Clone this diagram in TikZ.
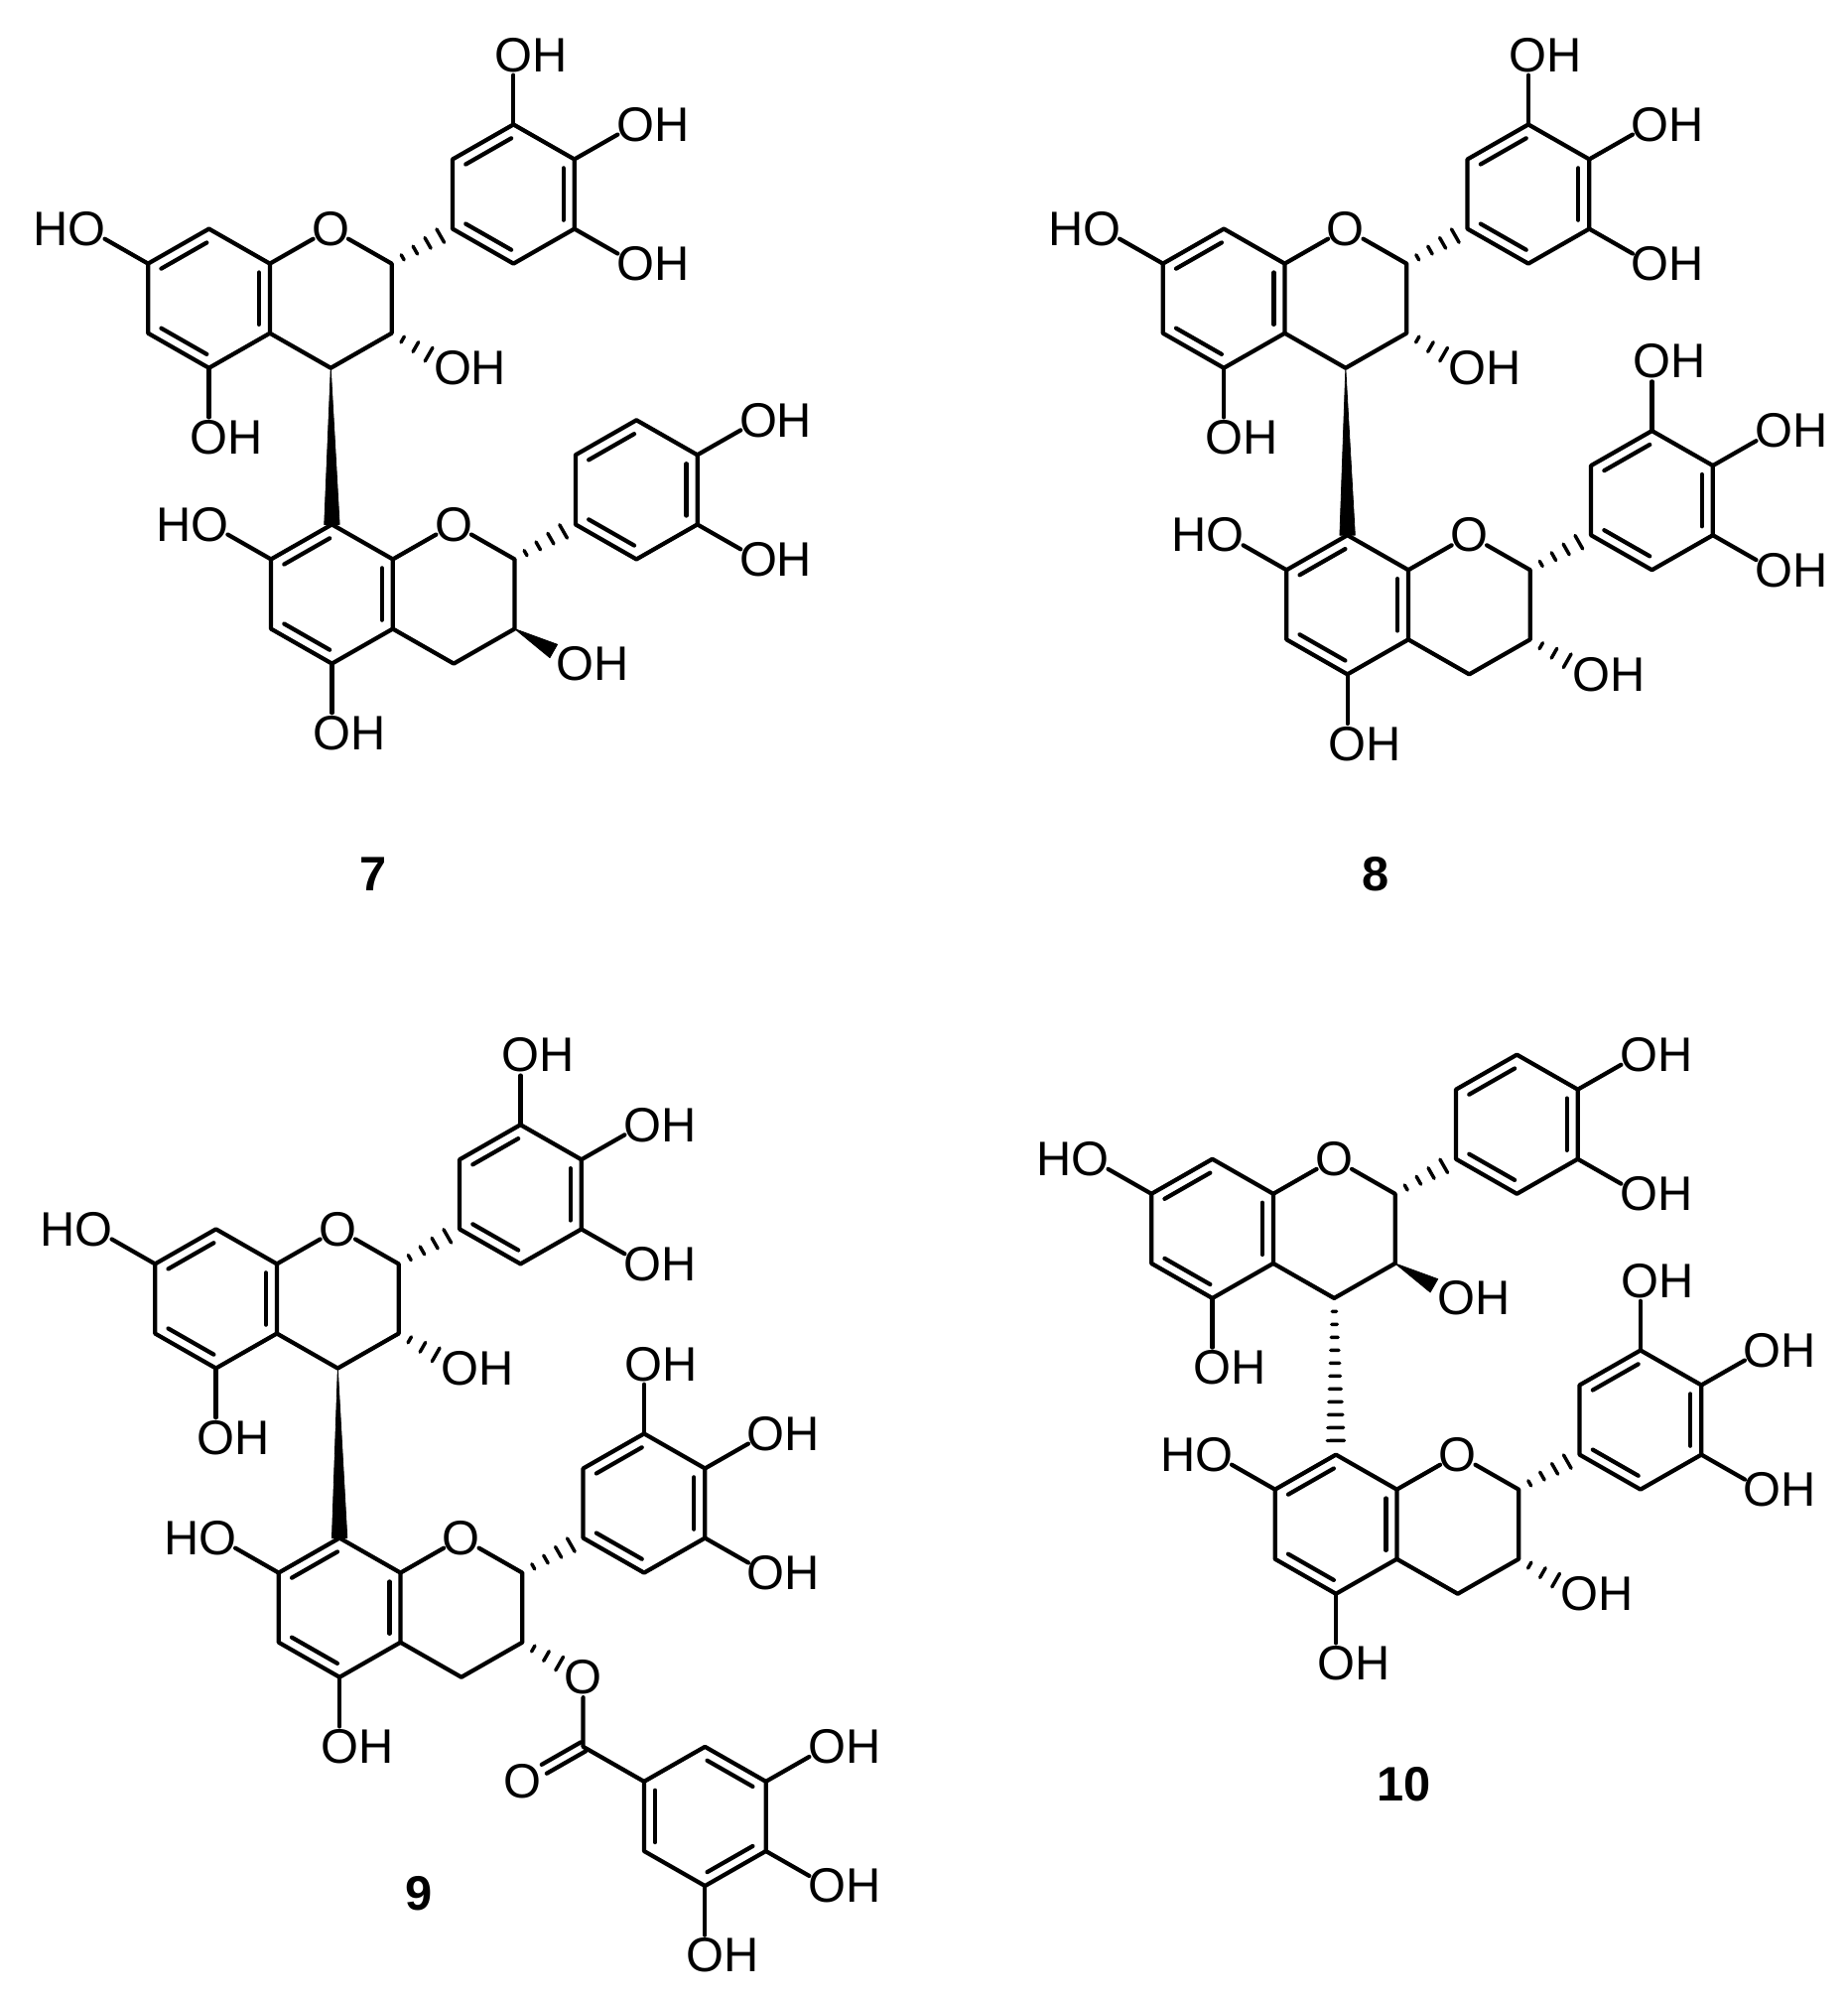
\documentclass[tikz,border=0pt]{standalone}
\usepackage{fontspec}
\setmainfont{Liberation Sans}
\usetikzlibrary{calc}
\tikzset{
  lattice/.style={x=47.8pt,y=-27.3pt},
  bond/.style={draw=black,line width=3.3pt,line join=round,line cap=round},
  innerbond/.style={bond,shorten <=2pt,shorten >=2pt},
  hashline/.style={draw=black,line width=2.7pt,line cap=round},
  wedgefill/.style={fill=black,draw=black,line width=0.6pt,line join=round},
  atomlab/.style={circle,inner sep=-3pt,font=\fontsize{38}{38}\selectfont},
  cpdlab/.style={inner sep=0pt,font=\fontsize{38}{38}\selectfont\bfseries},
}
\newcommand\OHlab[2]{\node[atomlab] (#1) at (#2) {O\rlap{H}};}
\newcommand\HOlab[2]{\node[atomlab] (#1) at (#2) {\llap{H}O};}
\newcommand\Olab[2]{\node[atomlab] (#1) at (#2) {O};}
\newcommand\dbl[3]{\draw[innerbond] ($(#1)!.18!(#3)$) -- ($(#2)!.18!(#3)$);}
% hashbond: from, to, t start, t end, last index, max half-width per unit t
\newcommand\hashbond[6]{%
  \foreach \hK in {0,...,#5}{%
    \pgfmathsetmacro\hT{#3+(#4-#3)*\hK/#5}%
    \pgfmathsetmacro\hW{1.2+\hT*#6}%
    \draw[hashline] ($(#1)!\hT!(#2)!\hW pt!90:(#2)$) -- ($(#1)!\hT!(#2)!\hW pt!-90:(#2)$);%
  }}
% short hashed bond from a ring carbon to an oxygen label
\newcommand\hashO[2]{\hashbond{#1}{#2}{0.18}{0.61}{2}{8}}
% wedgebond: from, to, t end, half-width
\newcommand\wedgebond[4]{%
  \fill[wedgefill] (#1) -- ($(#1)!#3!(#2)!#4pt!90:(#2)$) -- ($(#1)!#3!(#2)!#4pt!-90:(#2)$) -- cycle;}
% full wedge with its wide end on the carbon #2
\newcommand\fullwedge[3]{%
  \fill[wedgefill] (#1) -- ($(#2)!#3pt!90:(#1)$) -- ($(#2)!#3pt!-90:(#1)$) -- cycle;}
% flavan unit: prefix, X, Y
\newcommand\flavan[3]{%
\begin{scope}[shift={(#2pt,-#3pt)},lattice]
  \coordinate (#1a1) at (0,0); \coordinate (#1a2) at (-1,1); \coordinate (#1a3) at (-1,3);
  \coordinate (#1a4) at (0,4); \coordinate (#1a5) at (1,3); \coordinate (#1a6) at (1,1);
  \coordinate (#1ac) at (0,2);
  \coordinate (#1c2) at (3,1); \coordinate (#1c3) at (3,3); \coordinate (#1c4) at (2,4);
  \coordinate (#1b1) at (4,0); \coordinate (#1b2) at (4,-2); \coordinate (#1b3) at (5,-3);
  \coordinate (#1b4) at (6,-2); \coordinate (#1b5) at (6,0); \coordinate (#1b6) at (5,1);
  \coordinate (#1bc) at (5,-1);
  \Olab{#1o}{2,0}
  \HOlab{#1ho7}{-2,0}
  \OHlab{#1oh5}{0,6}
  \OHlab{#1oh3p}{7,-3}
  \OHlab{#1oh4p}{7,1}
  \draw[bond] (#1a1) -- (#1a2) -- (#1a3) -- (#1a4) -- (#1a5) -- (#1a6) -- cycle;
  \dbl{#1a1}{#1a2}{#1ac} \dbl{#1a3}{#1a4}{#1ac} \dbl{#1a5}{#1a6}{#1ac}
  \draw[bond] (#1a6) -- (#1o);
  \draw[bond] (#1o) -- (#1c2) -- (#1c3) -- (#1c4) -- (#1a5);
  \draw[bond] (#1a2) -- (#1ho7);
  \draw[bond] (#1a4) -- (#1oh5);
  \draw[bond] (#1b1) -- (#1b2) -- (#1b3) -- (#1b4) -- (#1b5) -- (#1b6) -- cycle;
  \dbl{#1b2}{#1b3}{#1bc} \dbl{#1b4}{#1b5}{#1bc} \dbl{#1b1}{#1b6}{#1bc}
  \draw[bond] (#1b4) -- (#1oh3p);
  \draw[bond] (#1b5) -- (#1oh4p);
  \hashbond{#1c2}{#1b1}{0.18}{0.80}{3}{6}
\end{scope}}
% third OH of the B ring
\newcommand\galloyl[3]{%
\begin{scope}[shift={(#2pt,-#3pt)},lattice]
  \OHlab{#1oh5p}{5,-5}
  \draw[bond] (#1b3) -- (#1oh5p);
\end{scope}}
% C3 oxygen label
\newcommand\threeOH[3]{%
\begin{scope}[shift={(#2pt,-#3pt)},lattice]
  \OHlab{#1oh3}{4,4}
\end{scope}}
\begin{document}
\begin{tikzpicture}[x=1pt,y=-1pt]
\useasboundingbox (0,0) rectangle (1450,1568);
\fill[white] (0,0) rectangle (1450,1568);
% ---- compound 7
\flavan{ga}{164}{179.6}\galloyl{ga}{164}{179.6}\threeOH{ga}{164}{179.6}
\hashO{gac3}{gaoh3}
\flavan{gb}{260.5}{411.6}\threeOH{gb}{260.5}{411.6}
\wedgebond{gbc3}{gboh3}{0.64}{6}
\fullwedge{gac4}{gba1}{6}
\node[cpdlab] (seven) at (293,686) {7};
% ---- compound 8
\flavan{ha}{960.5}{179.6}\galloyl{ha}{960.5}{179.6}\threeOH{ha}{960.5}{179.6}
\hashO{hac3}{haoh3}
\flavan{hb}{1057.5}{420}\galloyl{hb}{1057.5}{420}\threeOH{hb}{1057.5}{420}
\hashO{hbc3}{hboh3}
\fullwedge{hac4}{hba1}{6}
\node[cpdlab] (eight) at (1080,686) {8};
% ---- compound 9
\flavan{ia}{169.5}{964.6}\galloyl{ia}{169.5}{964.6}\threeOH{ia}{169.5}{964.6}
\hashO{iac3}{iaoh3}
\flavan{ib}{266.5}{1207}\galloyl{ib}{266.5}{1207}
\fullwedge{iac4}{iba1}{6}
\begin{scope}[shift={(266.5pt,-1207pt)},lattice]
  \Olab{ioe}{4,4}
  \coordinate (icc) at (4,6);
  \Olab{ioc}{3,7}
  \coordinate (ig1) at (5,7); \coordinate (ig2) at (5,9); \coordinate (ig3) at (6,10);
  \coordinate (ig4) at (7,9); \coordinate (ig5) at (7,7); \coordinate (ig6) at (6,6);
  \coordinate (igc) at (6,8);
  \OHlab{igoh5}{8,6} \OHlab{igoh4}{8,10} \OHlab{igoh3}{6,12}
\end{scope}
\hashO{ibc3}{ioe}
\draw[bond] (ioe) -- (icc) -- (ig1);
\draw[bond] ($(icc)!4pt!90:(ioc)$) -- ($(icc)!.64!(ioc)!4pt!90:(ioc)$);
\draw[bond] ($(icc)!4pt!-90:(ioc)$) -- ($(icc)!.64!(ioc)!4pt!-90:(ioc)$);
\draw[bond] (ig1) -- (ig2) -- (ig3) -- (ig4) -- (ig5) -- (ig6) -- cycle;
\dbl{ig1}{ig2}{igc} \dbl{ig3}{ig4}{igc} \dbl{ig5}{ig6}{igc}
\draw[bond] (ig5) -- (igoh5);
\draw[bond] (ig4) -- (igoh4);
\draw[bond] (ig3) -- (igoh3);
\node[cpdlab] (nine) at (329,1486) {9};
% ---- compound 10
\flavan{ja}{951.5}{909.6}\threeOH{ja}{951.5}{909.6}
\wedgebond{jac3}{jaoh3}{0.64}{6}
\flavan{jb}{1048.5}{1141.6}\galloyl{jb}{1048.5}{1141.6}\threeOH{jb}{1048.5}{1141.6}
\hashO{jbc3}{jboh3}
\hashbond{jac4}{jba1}{0.085}{0.91}{10}{6}
\node[cpdlab] (ten) at (1102,1400) {10};
\end{tikzpicture}
\end{document}
